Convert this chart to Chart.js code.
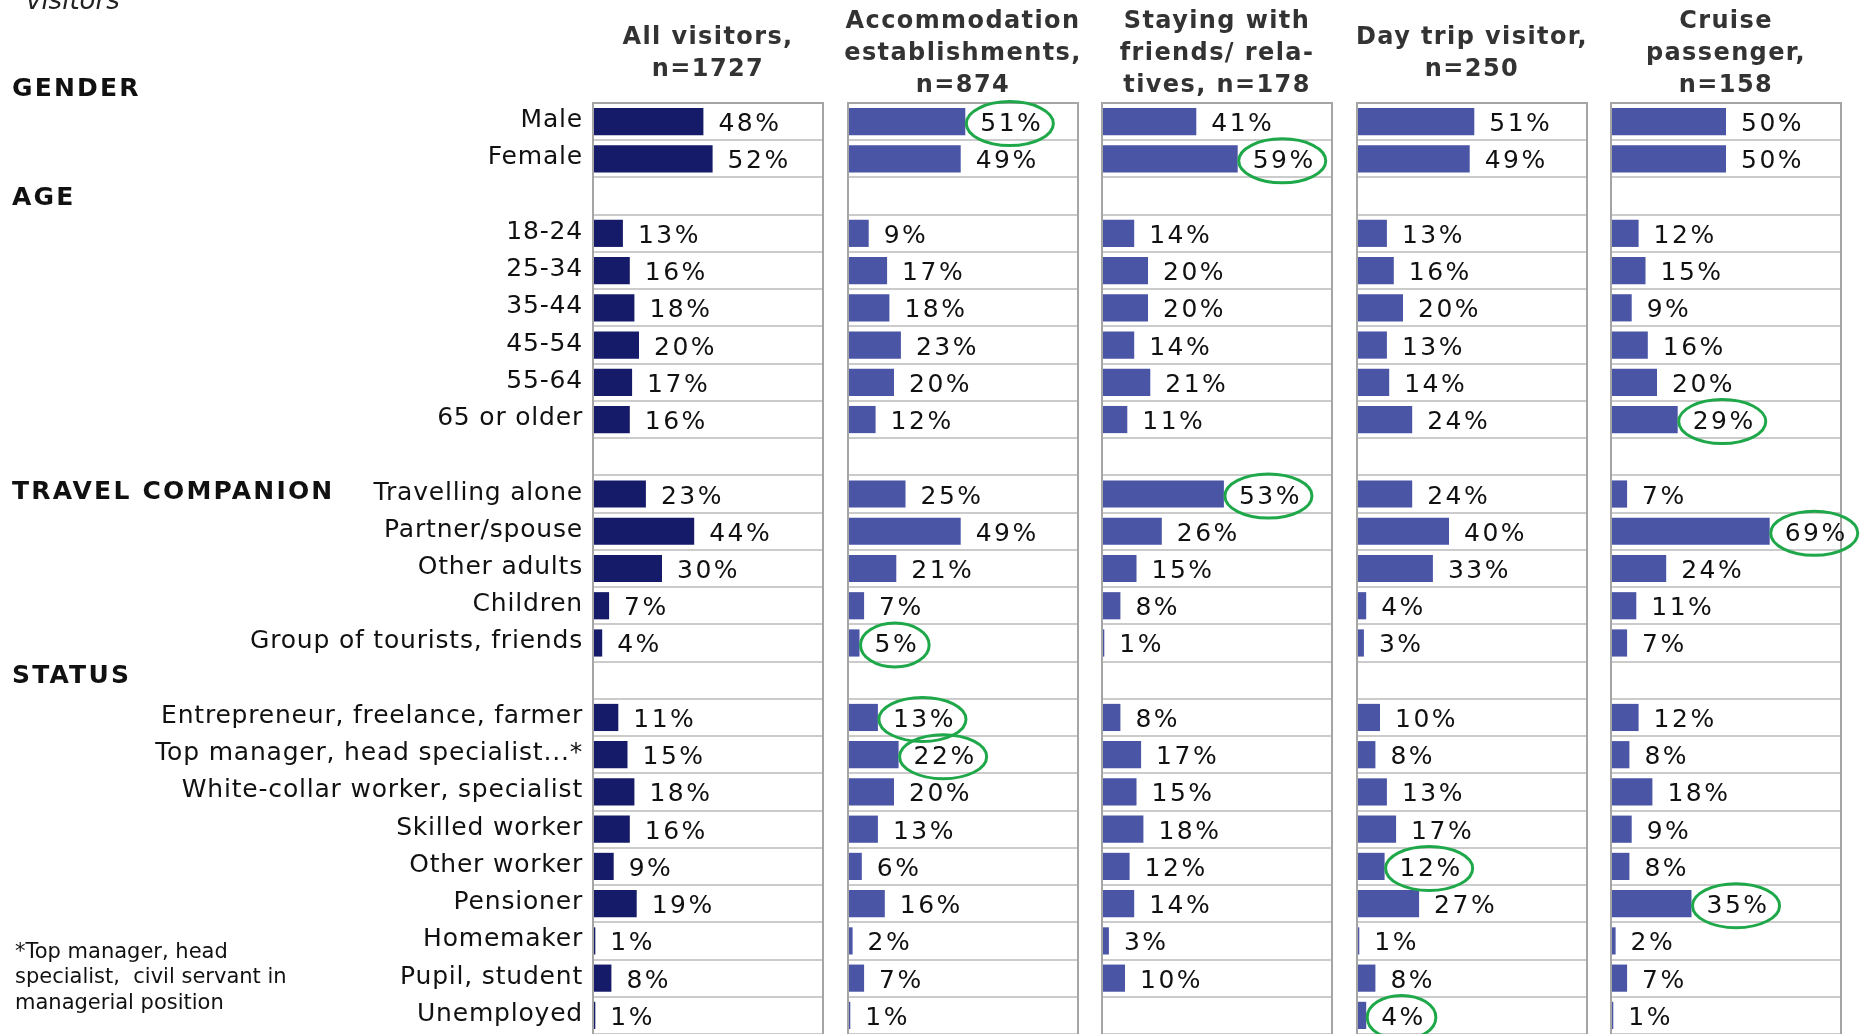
<!DOCTYPE html>
<html>
<head>
<meta charset="utf-8">
<script src="https://cdn.jsdelivr.net/npm/chart.js@4.4.1/dist/chart.umd.min.js"></script>
<style>
  html, body { margin: 0; padding: 0; background: #fff; }
  #wrap { position: relative; width: 1864px; height: 1034px; overflow: hidden; }
  #wrap canvas { position: absolute; left: 0; top: 0; }
</style>
</head>
<body>
<div id="wrap">
  <canvas id="c0" width="1864" height="1034"></canvas>
  <canvas id="c1" width="1864" height="1034"></canvas>
  <canvas id="c2" width="1864" height="1034"></canvas>
  <canvas id="c3" width="1864" height="1034"></canvas>
  <canvas id="c4" width="1864" height="1034"></canvas>
</div>
<script>
// rows (blank strings are the spacer rows between groups)
const categories = [
  "Male", "Female", "",
  "18-24", "25-34", "35-44", "45-54", "55-64", "65 or older", "",
  "Travelling alone", "Partner/spouse", "Other adults", "Children", "Group of tourists, friends", "",
  "Entrepreneur, freelance, farmer", "Top manager, head specialist...*", "White-collar worker, specialist",
  "Skilled worker", "Other worker", "Pensioner", "Homemaker", "Pupil, student", "Unemployed"
];

const allVisitors    = [48, 52, null, 13, 16, 18, 20, 17, 16, null, 23, 44, 30, 7, 4, null, 11, 15, 18, 16, 9, 19, 1, 8, 1];
const accommodation  = [51, 49, null, 9, 17, 18, 23, 20, 12, null, 25, 49, 21, 7, 5, null, 13, 22, 20, 13, 6, 16, 2, 7, 1];
const stayingFriends = [41, 59, null, 14, 20, 20, 14, 21, 11, null, 53, 26, 15, 8, 1, null, 8, 17, 15, 18, 12, 14, 3, 10, null];
const dayTrip        = [51, 49, null, 13, 16, 20, 13, 14, 24, null, 24, 40, 33, 4, 3, null, 10, 8, 13, 17, 12, 27, 1, 8, 4];
const cruise         = [50, 50, null, 12, 15, 9, 16, 20, 29, null, 7, 69, 24, 11, 7, null, 12, 8, 18, 9, 8, 35, 2, 7, 1];

const headers = [
  ["All visitors,", "n=1727"],
  ["Accommodation", "establishments,", "n=874"],
  ["Staying with", "friends/ rela-", "tives, n=178"],
  ["Day trip visitor,", "n=250"],
  ["Cruise", "passenger,", "n=158"]
];

// values circled in green
const highlights = [
  [],
  ["Male", "Group of tourists, friends", "Entrepreneur, freelance, farmer", "Top manager, head specialist...*"],
  ["Female", "Travelling alone"],
  ["Other worker", "Unemployed"],
  ["65 or older", "Partner/spouse", "Pensioner"]
];

const sections = [["GENDER", 89.5], ["AGE", 198.5], ["TRAVEL COMPANION", 492.5], ["STATUS", 676.5]];
const footnote = ["*Top manager, head", "specialist,  civil servant in", "managerial position"];

const series = [allVisitors, accommodation, stayingFriends, dayTrip, cruise];
const barColors = ["#151a69", "#4a55a6", "#4a55a6", "#4a55a6", "#4a55a6"];
const panelLeft = [593, 848, 1102, 1357, 1611];
const panelWidth = 230;
const W = 1864;
const FONT = '"DejaVu Sans", Verdana, sans-serif';

// border, value labels, green circles and the column header
const panelPlugin = {
  id: "panel",
  afterDatasetsDraw(chart, args, opts) {
    const ctx = chart.ctx;
    const a = chart.chartArea;
    ctx.save();
    ctx.strokeStyle = "#a5a5a5";
    ctx.lineWidth = 2;
    ctx.strokeRect(a.left, a.top, a.width, a.height + 10);

    const vals = chart.data.datasets[0].data;
    const meta = chart.getDatasetMeta(0);
    ctx.font = "25px " + FONT;
    ctx.letterSpacing = "2.5px";
    ctx.textBaseline = "middle";
    ctx.textAlign = "left";
    meta.data.forEach((bar, i) => {
      if (vals[i] == null) return;
      const txt = vals[i] + "%";
      const x = bar.x + 15;
      const y = bar.y + 3;
      ctx.fillStyle = "#111";
      ctx.fillText(txt, x, y);
      if (opts.marks.includes(categories[i])) {
        const w = ctx.measureText(txt).width;
        ctx.beginPath();
        ctx.ellipse(x + w / 2 - 2, y - 1, w / 2 + 12, 22, 0, 0, Math.PI * 2);
        ctx.strokeStyle = "#1fa84a";
        ctx.lineWidth = 3;
        ctx.stroke();
      }
    });

    // header above panel
    ctx.font = "bold 24px " + FONT;
    ctx.letterSpacing = "1.4px";
    ctx.fillStyle = "#333";
    ctx.textAlign = "center";
    const lines = opts.header;
    const cx = (a.left + a.right) / 2;
    lines.forEach((t, i) => {
      ctx.fillText(t, cx, 53.5 + (i - (lines.length - 1) / 2) * 32);
    });
    ctx.restore();
  }
};

// row labels, section titles, footnote and the cut-off word at the top
const sidePlugin = {
  id: "side",
  afterDraw(chart) {
    const ctx = chart.ctx;
    const yScale = chart.scales.y;
    ctx.save();
    ctx.textBaseline = "middle";
    ctx.textAlign = "right";
    ctx.fillStyle = "#111";
    ctx.font = "25px " + FONT;
    ctx.letterSpacing = "0.8px";
    categories.forEach((c, i) => {
      if (c) ctx.fillText(c, 583, yScale.getPixelForValue(i) - 1);
    });

    ctx.textAlign = "left";
    ctx.fillStyle = "#222";
    ctx.font = "italic 26px " + FONT;
    ctx.letterSpacing = "0px";
    ctx.fillText("visitors", 26, 2);
    ctx.fillStyle = "#111";
    ctx.font = "bold 25px " + FONT;
    ctx.letterSpacing = "2.2px";
    sections.forEach(s => ctx.fillText(s[0], 12, s[1]));
    ctx.letterSpacing = "0px";
    ctx.font = "21px " + FONT;
    footnote.forEach((t, i) => ctx.fillText(t, 15, 952.5 + i * 25.5));
    ctx.restore();
  }
};

series.forEach((data, k) => {
  const first = k === 0;
  const left = panelLeft[k];
  new Chart(document.getElementById("c" + k), {
    type: "bar",
    data: {
      labels: categories,
      datasets: [{
        data: data,
        backgroundColor: barColors[k],
        borderWidth: 0,
        barPercentage: 0.73,
        categoryPercentage: 1
      }]
    },
    options: {
      indexAxis: "y",
      responsive: false,
      animation: false,
      events: [],
      layout: {
        padding: { left: left, right: W - left - panelWidth, top: 103, bottom: 0 }
      },
      scales: {
        x: { display: false, min: 0, max: 100 },
        y: {
          afterFit: s => { s.width = 0; },
          border: { display: false },
          grid: { color: "#cbcbcb", lineWidth: 2, drawTicks: false },
          ticks: { display: false }
        }
      },
      plugins: {
        legend: { display: false },
        tooltip: { enabled: false },
        panel: { header: headers[k], marks: highlights[k] }
      }
    },
    plugins: first ? [panelPlugin, sidePlugin] : [panelPlugin]
  });
});
</script>
</body>
</html>
